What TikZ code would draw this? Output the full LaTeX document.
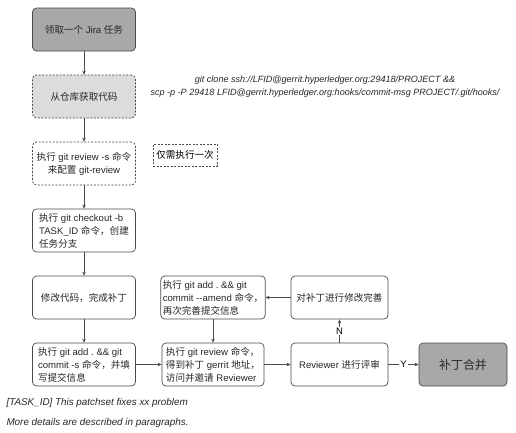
\documentclass[tikz,border=0pt]{standalone}
\usepackage{fontspec}
\setmainfont{Liberation Sans}
\newfontfamily\cjk{Noto Sans CJK SC}
\newcommand\zh[1]{{\cjk #1}}
\usetikzlibrary{arrows.meta}
\definecolor{darkfill}{HTML}{A8A8A8}
\definecolor{lightfill}{HTML}{DCDCDC}
\definecolor{edge}{HTML}{4A4A4A}
\frenchspacing
\begin{document}
\begin{tikzpicture}[x=1bp,y=-1bp,
  box/.style={draw=edge,line width=0.7bp,rounded corners=4bp,minimum height=43bp,
    inner sep=2bp,font=\fontsize{9.6}{13}\selectfont\frenchspacing,text=black!85},
  c1/.style={box,minimum width=103bp},
  c2/.style={box,minimum width=102bp},
  c3/.style={box,minimum width=97bp},
  dashbox/.style={dashed,dash pattern=on 2bp off 1.5bp},
  arr/.style={draw=edge,line width=0.7bp,-{Stealth[length=4bp,width=3.5bp]}},
  lbl/.style={fill=white,inner sep=1bp,font=\fontsize{9.5}{10}\selectfont}]
\useasboundingbox (0,0) rectangle (516,432);
\node[c1,fill=darkfill,align=center] (n1) at (84,29.5) {\zh{领取一个} Jira \zh{任务}};
\node[c1,fill=lightfill,dashbox,align=center] (n2) at (84,96.5) {\zh{从仓库获取代码}};
\node[c1,dashbox,align=center] (n3) at (84,163.5) {\zh{执行} git review -s \zh{命令}\\\zh{来配置} git-review};
\node[c1,align=left] (n4) at (84,230.5) {\zh{执行} git checkout -b\\TASK\_ID \zh{命令，创建}\\\zh{任务分支}};
\node[c1,align=center] (n5) at (84,297.5) {\zh{修改代码，完成补丁}};
\node[c1,align=left] (n11) at (84,364.5) {\zh{执行} git add . \&\& git\\commit -s \zh{命令，并填}\\\zh{写提交信息}};
\node[c2,align=left] (n6) at (213,297.5) {\zh{执行} git add . \&\& git\\commit -{}-amend \zh{命令，}\\\zh{再次完善提交信息}};
\node[c2,align=left] (n8) at (213,364.5) {\zh{执行} git review \zh{命令，}\\\zh{得到补丁} gerrit \zh{地址，}\\\zh{访问并邀请} Reviewer};
\node[c3,align=center] (n7) at (339.5,297.5) {\zh{对补丁进行修改完善}};
\node[c3,align=center] (n9) at (339.5,364.5) {Reviewer \zh{进行评审}};
\node[box,minimum width=88bp,fill=darkfill,align=center,font=\fontsize{12}{14}\selectfont] (n10) at (463,364.5) {\zh{补丁合并}};
\node[draw=edge,line width=0.7bp,dashbox,minimum width=64bp,minimum height=22bp,inner sep=2bp,
  font=\fontsize{9.6}{11}\selectfont] (note) at (185,155) {\zh{仅需执行一次}};
\node[align=center,font=\fontsize{9.1}{13.5}\selectfont\itshape,text=black!85] (cmd) at (325,86.5)
  {git clone ssh://LFID@gerrit.hyperledger.org:29418/PROJECT \&\&\\scp -p -P 29418 LFID@gerrit.hyperledger.org:hooks/commit-msg PROJECT/.git/hooks/};
\node[anchor=west,align=left,font=\fontsize{9.9}{20}\selectfont\itshape,text=black!85] (foot) at (3,413)
  {[TASK\_ID] This patchset fixes xx problem\\More details are described in paragraphs.};
\draw[arr] (n1) -- (n2);
\draw[arr] (n2) -- (n3);
\draw[arr] (n3) -- (n4);
\draw[arr] (n4) -- (n5);
\draw[arr] (n5) -- (n11);
\draw[arr] (n11) -- (n8);
\draw[arr] (n8) -- (n9);
\draw[arr] (n9) -- node[lbl] {Y} (n10);
\draw[arr] (n9) -- node[lbl] {N} (n7);
\draw[arr] (n7) -- (n6);
\draw[arr] (n6) -- (n8);
\end{tikzpicture}
\end{document}
